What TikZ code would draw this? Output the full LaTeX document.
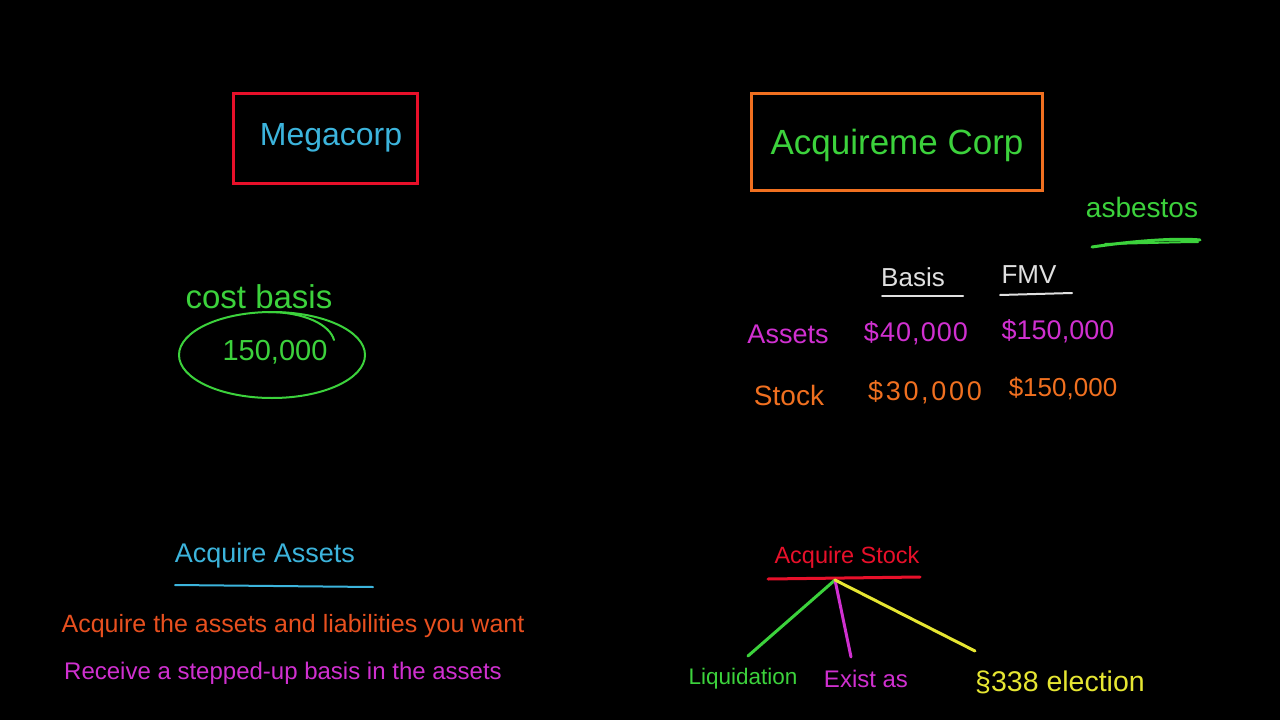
\documentclass[tikz,border=0pt]{standalone}
\usepackage{fontspec}
\setmainfont{Liberation Sans}
\definecolor{cy}{HTML}{3CB4DC}
\definecolor{gr}{HTML}{3CD23C}
\definecolor{rd}{HTML}{E8102A}
\definecolor{og}{HTML}{F07020}
\definecolor{org}{HTML}{E8501F}
\definecolor{mg}{HTML}{D030D0}
\definecolor{wh}{HTML}{E0E0E0}
\definecolor{yl}{HTML}{E6E632}
\tikzset{
  txt/.style={inner sep=0pt, font=\fontsize{#1}{#1}\selectfont},
  txt/.default=28,
  box/.style={draw, line width=3pt},
  pen/.style={line width=2pt, line cap=round},
  thickpen/.style={line width=3pt, line cap=round}
}
\begin{document}
\begin{tikzpicture}[x=1pt,y=-1pt]
\fill[black] (0,0) rectangle (1280,720);
\useasboundingbox (0,0) rectangle (1280,720);

% Megacorp
\draw[box, rd] (233,93) rectangle (417,183);
\node[txt=32, cy] (mega) at (331,138) {Megacorp};

% Acquireme Corp
\draw[box, og] (751,93) rectangle (1042,190);
\node[txt=35, gr] (acq) at (897,145) {Acquireme Corp};

% asbestos
\node[txt=28, gr] (asb) at (1142,207) {asbestos};
\draw[thickpen, gr] (1092,247) .. controls (1140,240) and (1180,238) .. (1200,240);
\draw[pen, gr] (1105,244) .. controls (1150,243) and (1185,242) .. (1198,242);

% cost basis
\node[txt=33, gr] (cost) at (259,297) {cost basis};
\draw[pen, gr] (272,355) ellipse [x radius=93, y radius=43];
\draw[pen, gr] (268,312) .. controls (305,312) and (330,325) .. (334,340);
\node[txt=29, gr] (val) at (275,352) {150,000};

% Table
\node[txt=26, wh] (basis) at (913,277) {Basis};
\draw[pen, wh] (882,296) -- (963,296);
\node[txt=26, wh] (fmv) at (1029,275) {FMV};
\draw[pen, wh] (1000,295) -- (1072,293);

\node[txt=27, mg] (assets) at (788,334) {Assets};
\node[txt=27, mg] (ab) at (916,333) {\addfontfeatures{LetterSpace=4}\$40,000};
\node[txt=27, mg] (af) at (1058,331) {\$150,000};

\node[txt=28, og] (stock) at (789,395) {Stock};
\node[txt=27, og] (sb) at (925,392) {\addfontfeatures{LetterSpace=10}\$30,000};
\node[txt=26, og] (sf) at (1063,389) {\$150,000};

% Acquire Assets
\node[txt=27, cy] (aa) at (265,556) {Acquire Assets};
\draw[pen, cy] (175,585) -- (373,587);
\node[txt=25, org] (l1) at (293,626) {Acquire the assets and liabilities you want};
\node[txt=24, mg] (l2) at (283,673) {Receive a stepped-up basis in the assets};

% Acquire Stock
\node[txt=23.5, rd] (as) at (847,557) {Acquire Stock};
\draw[thickpen, rd] (768,579) -- (920,577);
\coordinate (hub) at (835,580);
\coordinate (eL) at (748,656);
\coordinate (eE) at (851,657);
\coordinate (eS) at (975,651);
\draw[thickpen, gr] (hub) -- (eL);
\draw[thickpen, mg] (hub) -- (eE);
\draw[thickpen, yl] (hub) -- (eS);
\node[txt=22.5, gr] (liq) at (743,679) {Liquidation};
\node[txt=24, mg] (ex) at (866,679) {Exist as};
\node[txt=28.5, yl] (sec) at (1060,682) {§338 election};
\end{tikzpicture}
\end{document}
